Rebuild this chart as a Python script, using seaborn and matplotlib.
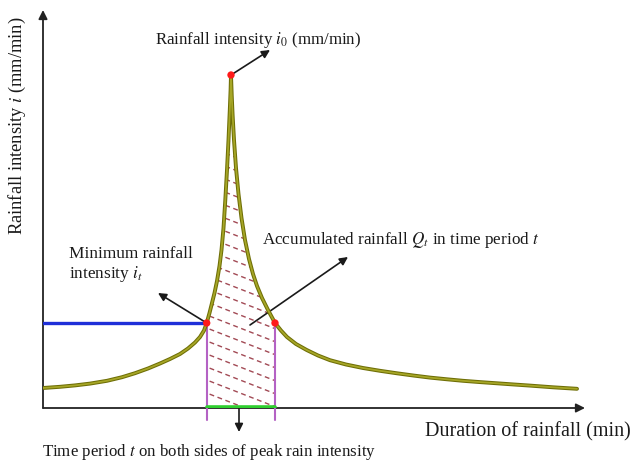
import numpy as np
import matplotlib
matplotlib.use("Agg")
import matplotlib.pyplot as plt
import seaborn as sns
from matplotlib.patches import Polygon

# ---------------- data ----------------
# duration (min) and rainfall intensity (mm/min) along the hyetograph curve
# rising limb (before the peak)
rise_x = [0, 17, 32, 47, 64, 79, 92, 105, 117, 127, 137, 145, 152, 157, 161,
          163.7, 166.5, 169, 171.5, 174, 176.5, 178.5, 180.5, 182.3, 184, 185.5,
          186.8, 187.6, 188]
rise_y = [0.20, 0.212, 0.226, 0.244, 0.272, 0.308, 0.348, 0.395, 0.445, 0.49, 0.54,
          0.595, 0.655, 0.71, 0.775, 0.85, 0.95, 1.05, 1.15, 1.27, 1.42, 1.58, 1.80,
          2.08, 2.38, 2.68, 2.98, 3.18, 3.33]
# falling limb (after the peak)
fall_x = [188.7, 189.6, 191, 193, 195.5, 198.5, 202, 206, 210, 214, 219, 225, 232,
          238, 244, 253, 263.7, 275, 287, 303, 320, 337, 354, 371, 387, 404, 420,
          437, 454, 471, 487, 510, 534]
fall_y = [3.13, 2.93, 2.68, 2.40, 2.14, 1.90, 1.68, 1.49, 1.34, 1.22, 1.10, 0.98,
          0.85, 0.775, 0.71, 0.64, 0.58, 0.525, 0.478, 0.435, 0.40, 0.372, 0.347,
          0.324, 0.304, 0.287, 0.272, 0.259, 0.247, 0.235, 0.224, 0.207, 0.192]

peak_x, peak_y = 188.0, 3.33          # peak intensity i0
t_start, t_end = 163.7, 232.0         # time period t around the peak
i_t = 0.85                            # minimum rainfall intensity
x_max, y_max = 542, 3.98

curve_x = rise_x + fall_x
curve_y = rise_y + fall_y

# ---------------- styling ----------------
sns.set_theme(style="white")
plt.rcParams["font.family"] = ["Liberation Serif", "DejaVu Serif"]
plt.rcParams["mathtext.fontset"] = "stix"

W, H = 631, 465
fig = plt.figure(figsize=(W / 100, H / 100), dpi=100)
ax = fig.add_axes([43 / W, (H - 408) / H, 542 / W, 398 / H])
ax.set_xlim(0, x_max)
ax.set_ylim(0, y_max)
for s in ax.spines.values():
    s.set_visible(False)
ax.set_xticks([])
ax.set_yticks([])
ax.patch.set_alpha(0)

# axes with arrows
arrow_kw = dict(arrowstyle="-|>", color="#222222", lw=1.3, mutation_scale=13,
                shrinkA=0, shrinkB=0)
ax.annotate("", xy=(x_max, 0), xytext=(0, 0), arrowprops=arrow_kw, annotation_clip=False)
ax.annotate("", xy=(0, y_max), xytext=(0, 0), arrowprops=arrow_kw, annotation_clip=False)

# hatched area (accumulated rainfall Q_t)
cx = np.array(curve_x)
cy = np.array(curve_y)
m = (cx >= t_start) & (cx <= t_end)
poly_pts = list(zip(cx[m], cy[m])) + [(t_end, 0), (t_start, 0)]
clip_poly = Polygon(poly_pts, closed=True, transform=ax.transData, facecolor="none",
                    edgecolor="none")
ax.add_patch(clip_poly)
hx = np.array([t_start - 5, t_end + 5])
for c in np.arange(0.15 - 0.13 * 3, 3.8, 0.13):
    hy = c - 0.0039 * (hx - t_start)
    ln, = ax.plot(hx, hy, color="#a24a55", lw=1.0, dashes=(3.5, 2.6), zorder=2)
    ln.set_clip_path(clip_poly)

# blue minimum-intensity line
ax.plot([0, t_start], [i_t, i_t], color="#1f2fd8", lw=2.4, zorder=3)
# purple verticals
for xv in (t_start, t_end):
    ax.plot([xv, xv], [i_t, -0.12], color="#b462c4", lw=1.5, clip_on=False, zorder=3)
# green period line
ax.plot([t_start, t_end], [0.012, 0.012], color="#2fcf2f", lw=2.6, zorder=4)

# curve
sns.lineplot(x=curve_x, y=curve_y, sort=False, estimator=None, ax=ax,
             color="#6e6e06", lw=2.8, zorder=5)
ax.plot(curve_x, curve_y, color="#a6a626", lw=1.3, zorder=6)

# red dots
ax.scatter([t_start, peak_x, t_end], [i_t, peak_y, i_t], s=28, color="#ff1a1a",
           zorder=8, edgecolors="none")

# annotation arrows
ak = dict(arrowstyle="-|>", color="#1a1a1a", lw=1.2, mutation_scale=12, shrinkA=0, shrinkB=0)
ax.annotate("", xy=(227, 3.58), xytext=(peak_x, peak_y), arrowprops=ak, annotation_clip=False)
ax.annotate("", xy=(115, 1.15), xytext=(t_start, i_t), arrowprops=ak, annotation_clip=False)
ax.annotate("", xy=(305, 1.51), xytext=(207, 0.83), arrowprops=ak, annotation_clip=False)
ax.annotate("", xy=(196, -0.24), xytext=(196, 0.0), arrowprops=ak, annotation_clip=False)

# texts
def ftext(px, py, s, **kw):
    fig.text(px / W, 1 - py / H, s, color="#1a1a1a", **kw)

ftext(155, 40, r"Rainfall intensity $i_0$ (mm/min)", fontsize=12.2, ha="left", va="center")
ftext(69, 265, "Minimum rainfall\nintensity $i_t$", fontsize=12.4, ha="left", va="center",
      linespacing=1.2)
ftext(262, 240, r"Accumulated rainfall $Q_t$ in time period $t$", fontsize=12.3,
      ha="left", va="center")
ftext(42, 452, r"Time period $t$ on both sides of peak rain intensity", fontsize=12.2,
      ha="left", va="center")
ftext(631, 432, "Duration of rainfall (min)", fontsize=14.5, ha="right", va="center")
ftext(17, 126, r"Rainfall intensity $i$ (mm/min)", fontsize=13.3, ha="center",
      va="center", rotation=90)

fig.savefig("out.png", dpi=100)
